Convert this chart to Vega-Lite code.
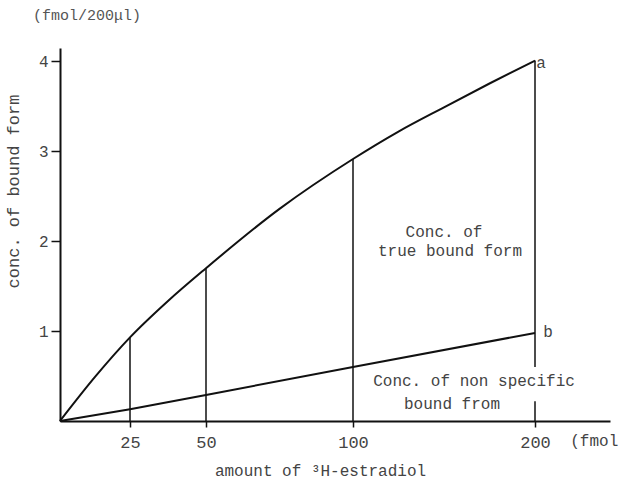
{
  "$schema": "https://vega.github.io/schema/vega-lite/v6.json",
  "autosize": {"type": "none"},
  "width": 550,
  "height": 373,
  "padding": {"left": 60, "top": 48, "right": 12, "bottom": 62},
  "background": "white",
  "config": {
    "view": {"stroke": null},
    "font": "Liberation Mono",
    "axis": {"grid": false, "domainColor": "#111", "domainWidth": 2, "tickColor": "#111", "tickWidth": 1.5, "labelColor": "#444", "titleColor": "#444", "labelFont": "Liberation Mono", "titleFont": "Liberation Mono", "titleFontWeight": "normal", "labelFontSize": 17, "titleFontSize": 16}
  },
  "title": {"text": "(fmol/200μl)", "anchor": "start", "frame": "group", "dx": -27, "offset": 25, "fontSize": 15, "fontWeight": "normal", "color": "#555", "font": "Liberation Mono"},
  "datasets": {
    "curveA": [
      {"amount": 0, "conc": 0},
      {"amount": 12.5, "conc": 0.49},
      {"amount": 25, "conc": 0.93},
      {"amount": 37.5, "conc": 1.335},
      {"amount": 50, "conc": 1.70},
      {"amount": 75, "conc": 2.36},
      {"amount": 100, "conc": 2.915},
      {"amount": 125, "conc": 3.22},
      {"amount": 150, "conc": 3.49},
      {"amount": 175, "conc": 3.755},
      {"amount": 200, "conc": 4.01}
    ],
    "lineB": [
      {"amount": 0, "conc": 0},
      {"amount": 25, "conc": 0.13},
      {"amount": 50, "conc": 0.29},
      {"amount": 100, "conc": 0.6},
      {"amount": 200, "conc": 0.98}
    ],
    "rules": [
      {"amount": 25, "lo": 0, "hi": 0.93},
      {"amount": 50, "lo": 0, "hi": 1.70},
      {"amount": 100, "lo": 0, "hi": 2.915},
      {"amount": 200, "lo": 0.6, "hi": 4.01},
      {"amount": 200, "lo": 0, "hi": 0.22}
    ],
    "labels": [
      {"amount": 150, "conc": 2.10, "label": "Conc. of"},
      {"amount": 153.3, "conc": 1.89, "label": "true bound form"},
      {"amount": 166.5, "conc": 0.445, "label": "Conc. of  non  specific"},
      {"amount": 154.4, "conc": 0.19, "label": "bound  from"},
      {"amount": 203.3, "conc": 3.98, "label": "a"},
      {"amount": 207.1, "conc": 0.99, "label": "b"},
      {"amount": 232.4, "conc": -0.22, "label": "(fmol"}
    ]
  },
  "layer": [
    {
      "data": {"name": "curveA"},
      "mark": {"type": "line", "interpolate": "monotone", "color": "#111", "strokeWidth": 2},
      "encoding": {
        "x": {"field": "amount", "type": "quantitative",
          "scale": {"domain": [0, 25, 50, 100, 200, 241], "range": [0, 70, 146, 293, 475, 550], "nice": false, "zero": false},
          "axis": {"values": [25, 50, 100, 200], "tickSize": 6, "labelPadding": 7, "title": "amount  of  ³H-estradiol", "titleX": 260, "titleY": 54, "titleAnchor": "middle", "titleBaseline": "alphabetic"}},
        "y": {"field": "conc", "type": "quantitative",
          "scale": {"domain": [0, 4.15], "nice": false},
          "axis": {"values": [1, 2, 3, 4], "format": "d", "tickSize": 9, "labelPadding": 3, "labelFontSize": 16, "title": "conc. of  bound  form", "titleFontSize": 17, "titleX": -47, "titleY": 143, "titleAnchor": "middle", "titleBaseline": "middle"}}
      }
    },
    {
      "data": {"name": "lineB"},
      "mark": {"type": "line", "color": "#111", "strokeWidth": 2},
      "encoding": {
        "x": {"field": "amount", "type": "quantitative"},
        "y": {"field": "conc", "type": "quantitative"}
      }
    },
    {
      "data": {"name": "rules"},
      "mark": {"type": "rule", "color": "#111", "strokeWidth": 1.5},
      "encoding": {
        "x": {"field": "amount", "type": "quantitative"},
        "y": {"field": "lo", "type": "quantitative"},
        "y2": {"field": "hi"}
      }
    },
    {
      "data": {"name": "labels"},
      "mark": {"type": "text", "font": "Liberation Mono", "fontSize": 16, "color": "#444", "align": "center", "baseline": "middle"},
      "encoding": {
        "x": {"field": "amount", "type": "quantitative"},
        "y": {"field": "conc", "type": "quantitative"},
        "text": {"field": "label"}
      }
    }
  ]
}
